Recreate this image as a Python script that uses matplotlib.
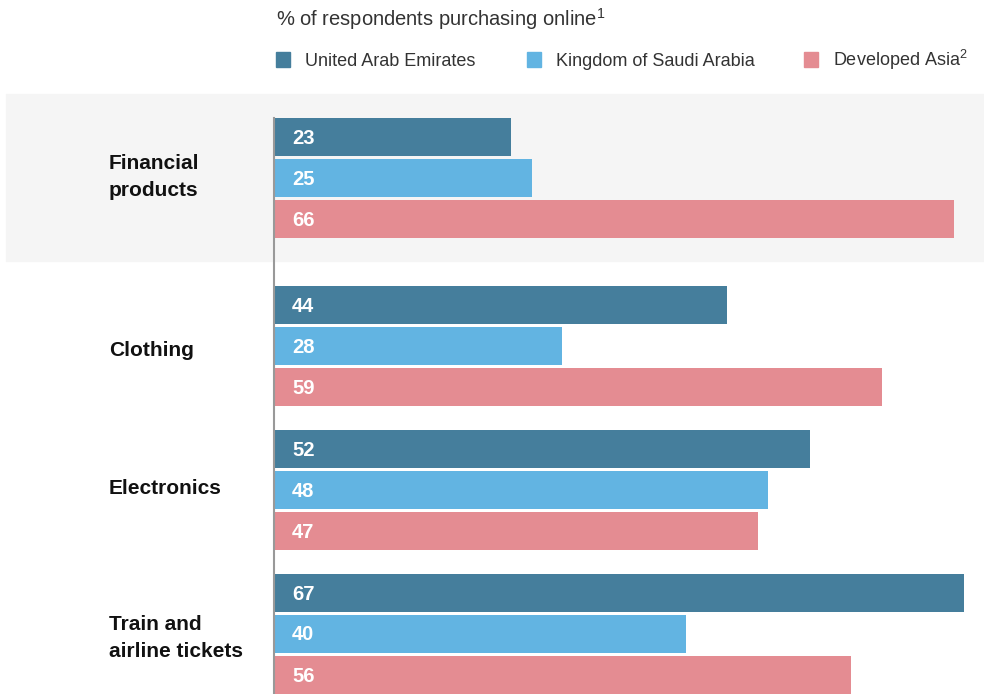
import numpy as np
import matplotlib
matplotlib.use('Agg')
import matplotlib.pyplot as plt
from matplotlib.patches import Rectangle

plt.rcParams['font.family'] = ['Liberation Sans', 'DejaVu Sans']
plt.rcParams['mathtext.fontset'] = 'custom'
plt.rcParams['mathtext.rm'] = 'Liberation Sans'

categories = ['Financial\nproducts', 'Clothing', 'Electronics', 'Train and\nairline tickets']
series = ['United Arab Emirates', 'Kingdom of Saudi Arabia', 'Developed Asia$^{2}$']
uae = [23, 44, 52, 67]
ksa = [25, 28, 48, 40]
dev_asia = [66, 59, 47, 56]
colors = ['#457e9c', '#62b4e2', '#e48c92']

W, H = 984, 694
fig = plt.figure(figsize=(W / 100, H / 100), dpi=100)

def fx(px):
    return px / W

def fy(py):
    return 1 - py / H

# grey band behind the first group
fig.patches.append(Rectangle((fx(6), fy(261)), fx(978), (261 - 94) / H,
                             transform=fig.transFigure, color='#f5f5f5', zorder=-5))

x0 = 274
ax = fig.add_axes([fx(x0), 0, 1 - fx(x0), 1])
ax.set_facecolor('none')
ax.set_zorder(2)
ax.set_xlim(0, (W - x0) / 10.3)
ax.set_ylim(H, 0)  # y in pixel rows
for s in ax.spines.values():
    s.set_visible(False)
ax.set_xticks([])
ax.set_yticks([])

group_centers = [178, 346, 490, 634]
label_y = [177, 351, 489, 638]
offsets = [-41, 0, 41]
bar_h = 38
for vals, off, c in zip([uae, ksa, dev_asia], offsets, colors):
    ys = np.array(group_centers) + off
    ax.barh(ys, vals, height=bar_h, color=c, zorder=2)
    for y, v in zip(ys, vals):
        ax.text(1.75, y + 1, str(v), color='white', fontsize=14.5, fontweight='bold',
                va='center', ha='left', zorder=3)

ax.plot([0, 0], [118, H], color='#999999', lw=1.5, zorder=4, clip_on=False)

for cat, yc in zip(categories, label_y):
    fig.text(fx(109), fy(yc), cat, fontsize=15, fontweight='bold', color='#111111',
             va='center', ha='left', linespacing=1.5)

fig.text(fx(276), fy(26), '% of respondents purchasing online$^{1}$', fontsize=14.5,
         color='#333333', va='baseline', ha='left')

leg_x = [276, 527, 804]
for lx, name, c in zip(leg_x, series, colors):
    fig.patches.append(Rectangle((fx(lx), fy(67)), 14 / W, 15 / H,
                                 transform=fig.transFigure, color=c))
    fig.text(fx(lx + 29), fy(66), name, fontsize=13, color='#333333',
             va='baseline', ha='left')

fig.savefig('out.png', dpi=100)
